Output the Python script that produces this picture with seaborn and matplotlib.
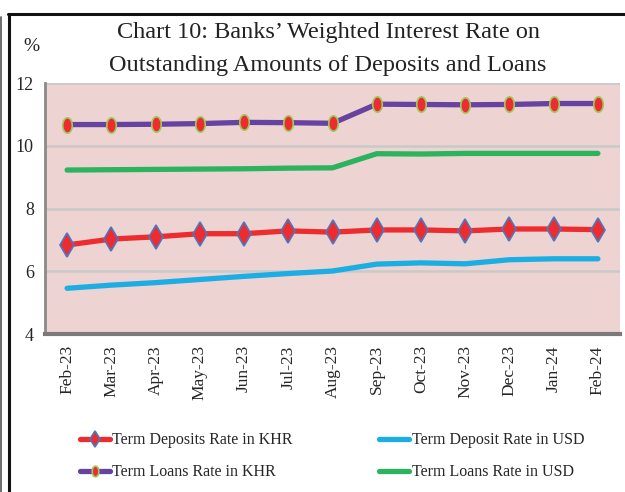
import numpy as np
import matplotlib
matplotlib.use("Agg")
import matplotlib.pyplot as plt
from matplotlib.lines import Line2D
from matplotlib.path import Path
import seaborn as sns

# data
months = ["Feb-23", "Mar-23", "Apr-23", "May-23", "Jun-23", "Jul-23", "Aug-23",
          "Sep-23", "Oct-23", "Nov-23", "Dec-23", "Jan-24", "Feb-24"]
dep_khr = [6.84, 7.03, 7.10, 7.20, 7.20, 7.29, 7.25, 7.32, 7.32, 7.29, 7.35, 7.35, 7.33]
dep_usd = [5.46, 5.56, 5.64, 5.74, 5.84, 5.93, 6.01, 6.23, 6.27, 6.24, 6.37, 6.40, 6.40]
loan_khr = [10.68, 10.68, 10.69, 10.71, 10.75, 10.74, 10.72, 11.33, 11.32, 11.31, 11.32, 11.35, 11.35]
loan_usd = [9.23, 9.24, 9.25, 9.26, 9.27, 9.29, 9.30, 9.75, 9.74, 9.76, 9.76, 9.76, 9.76]
yticks = [4, 6, 8, 10, 12]

sns.set_style("white")
plt.rcParams["font.family"] = ["Liberation Serif", "DejaVu Serif"]

# tall ellipse marker for the loans line
theta = np.linspace(0, 2 * np.pi, 40)
ellipse = Path(np.column_stack([0.62 * np.cos(theta), np.sin(theta)]), closed=True)

fig = plt.figure(figsize=(6.25, 4.92), dpi=100)
ax = fig.add_axes([0.072, 0.321, 0.92, 0.51])
ax.set_facecolor("#EDD3D2")

x = np.arange(len(months))
sns.lineplot(x=x, y=dep_usd, ax=ax, color="#1BAEE4", linewidth=3.8,
             label="Term Deposit Rate in USD", solid_capstyle="round")
sns.lineplot(x=x, y=loan_usd, ax=ax, color="#2BB35E", linewidth=3.8,
             label="Term Loans Rate in USD", solid_capstyle="round")
sns.lineplot(x=x, y=dep_khr, ax=ax, color="#EE2B2E", linewidth=3.8,
             marker="d", markersize=12, markerfacecolor="#EE2B2E",
             markeredgecolor="#4A78C0", markeredgewidth=1.2,
             label="Term Deposits Rate in KHR")
sns.lineplot(x=x, y=loan_khr, ax=ax, color="#6643A0", linewidth=3.8,
             marker=ellipse, markersize=11, markerfacecolor="#EE2B2E",
             markeredgecolor="#9CC95C", markeredgewidth=1.2,
             label="Term Loans Rate in KHR")

ax.set_xlim(-0.5, len(months) - 0.5)
ax.set_ylim(4, 12)
ax.set_yticks(yticks)
ax.set_yticklabels([str(v) for v in yticks], fontsize=13)
ax.set_xticks(x)
ax.set_xticklabels(months, rotation=90, fontsize=12.5)
ax.tick_params(axis="x", length=0, pad=8)
ax.tick_params(axis="y", length=5, width=1.5, color="#888888", pad=3, direction="out")
ax.grid(axis="y", color="#C9C9C9", linewidth=1.8)
ax.set_axisbelow(True)
ax.set_xlabel("")
ax.set_ylabel("")

for side in ["top", "right"]:
    ax.spines[side].set_visible(False)
ax.spines["left"].set_color("#8A8A8A")
ax.spines["left"].set_linewidth(2)
ax.spines["bottom"].set_color("#7A7A7A")
ax.spines["bottom"].set_linewidth(3)

fig.text(0.525, 0.933, "Chart 10: Banks\u2019 Weighted Interest Rate on",
         ha="center", va="center", fontsize=17.5, color="#222222")
fig.text(0.525, 0.866, "Outstanding Amounts of Deposits and Loans",
         ha="center", va="center", fontsize=17.5, color="#222222")
fig.text(0.05, 0.905, "%", ha="center", va="center", fontsize=14, color="#222222")

handles, labels = ax.get_legend_handles_labels()
ax.get_legend().remove()
order = [labels.index(l) for l in ["Term Deposits Rate in KHR", "Term Loans Rate in KHR",
                                   "Term Deposit Rate in USD", "Term Loans Rate in USD"]]
fig.legend([handles[i] for i in order], [labels[i] for i in order], ncol=2,
           loc="upper left", bbox_to_anchor=(0.117, 0.134), frameon=False,
           fontsize=11.5, handlelength=1.9, handletextpad=0.15, columnspacing=5.4,
           labelspacing=1.0, borderaxespad=0, numpoints=1, markerscale=0.7)

# page frame from the source document
fig.add_artist(Line2D([0.014, 0.014], [0.0, 0.972], color="#111111", linewidth=2.2,
                      transform=fig.transFigure))
fig.add_artist(Line2D([0.012, 1.0], [0.972, 0.972], color="#111111", linewidth=2.2,
                      transform=fig.transFigure))
fig.add_artist(Line2D([0.002, 0.002], [0.0, 0.965], color="#555555", linewidth=1.2,
                      transform=fig.transFigure))

fig.savefig("out.png", dpi=100)
